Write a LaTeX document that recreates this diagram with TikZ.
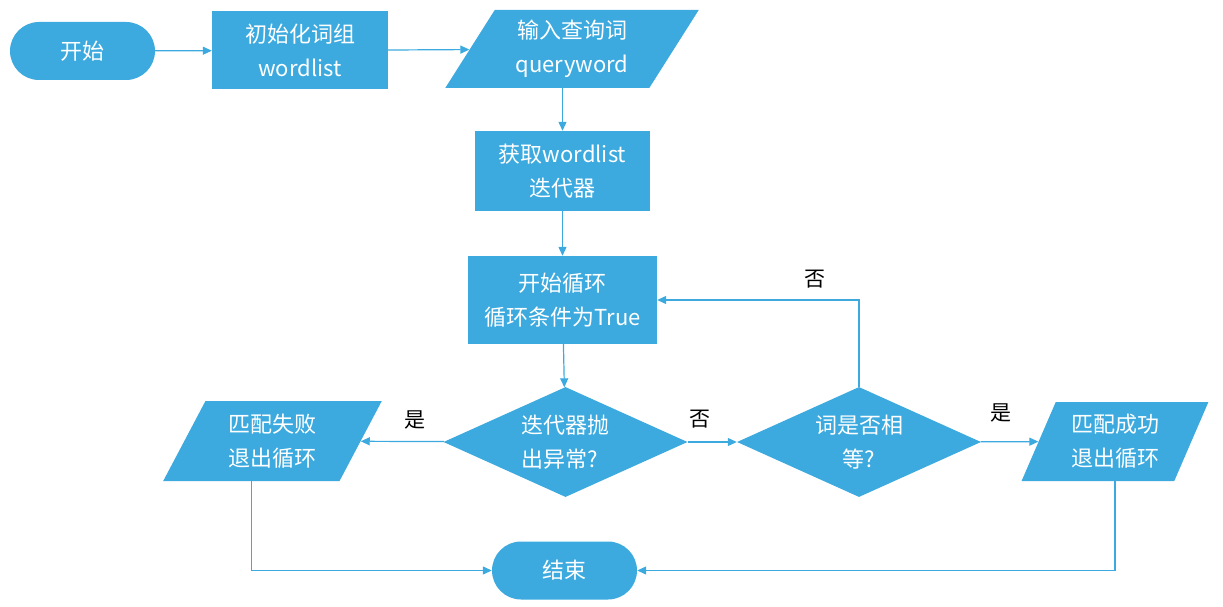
\documentclass[tikz,border=0pt]{standalone}
\usepackage{fontspec}
\setmainfont{Noto Sans CJK SC}
\usetikzlibrary{arrows.meta,shapes.geometric}
\definecolor{flowblue}{HTML}{3CAADF}

\begin{document}
\begin{tikzpicture}[x=1pt, y=-1pt, >={Triangle[length=9pt,width=8pt]},
  font=\fontsize{22}{34}\selectfont,
  box/.style={fill=flowblue, text=white, align=center, inner sep=0pt},
  terminal/.style={box, rounded corners=29pt, minimum width=145pt, minimum height=58pt},
  process/.style={box, minimum width=176pt, minimum height=78pt},
  io/.style={box, trapezium, trapezium stretches=true},
  decision/.style={box, diamond, aspect=2.2, minimum width=244pt, minimum height=110pt},
  flow/.style={->, flowblue, line width=1.2pt},
  lbl/.style={font=\fontsize{21}{24}\selectfont, text=black}]
  \useasboundingbox (0,0) rectangle (1223,607);

  % top row
  \node[terminal] (start) at (82.5,51) {开始};
  \node[process] (init) at (300,50.5) {初始化词组\\wordlist};
  \node[io, trapezium left angle=58, trapezium right angle=122,
        minimum width=254pt, minimum height=78pt] (input) at (572,49) {输入查询词\\queryword};

  % middle column
  \node[process, minimum width=175pt, minimum height=80pt] (iter) at (562.5,171) {获取wordlist\\迭代器};
  \node[process, minimum width=189pt, minimum height=88pt] (loop) at (562.5,300) {开始循环\\循环条件为True};
  \node[decision, align=left] (raise) at (565.5,442) {迭代器抛\\出异常?};
  \node[decision] (equal) at (859,442) {词是否相\\等?};

  % exits
  \node[io, trapezium left angle=63, trapezium right angle=117,
        minimum width=219pt, minimum height=80pt] (fail) at (272.5,441) {匹配失败\\退出循环};
  \node[io, trapezium left angle=65, trapezium right angle=115,
        minimum width=187pt, minimum height=79pt] (succ) at (1115,441.5) {匹配成功\\退出循环};
  \node[terminal] (end) at (564.5,570.5) {结束};

  \draw[flow] (start) -- (init);
  \draw[flow] (init) -- (input);
  \draw[flow] (iter.north |- input.south) -- (iter);
  \draw[flow] (iter) -- (loop);
  \draw[flow] (loop) -- (raise);
  \draw[flow] (raise) -- node[lbl, above=8pt, pos=0.35] {是} (fail);
  \draw[flow] (raise) -- node[lbl, above=10pt, pos=0.25] {否} (equal);
  \draw[flow] (equal) -- node[lbl, above=16pt, pos=0.35] {是} (succ);
  \draw[flow] (equal.north) |- node[lbl, above=8pt, pos=0.61] {否} (loop.east);
  \draw[flow] (fail.bottom side) |- (end.west);
  \draw[flow] (succ.south) |- (end.east);
\end{tikzpicture}
\end{document}
